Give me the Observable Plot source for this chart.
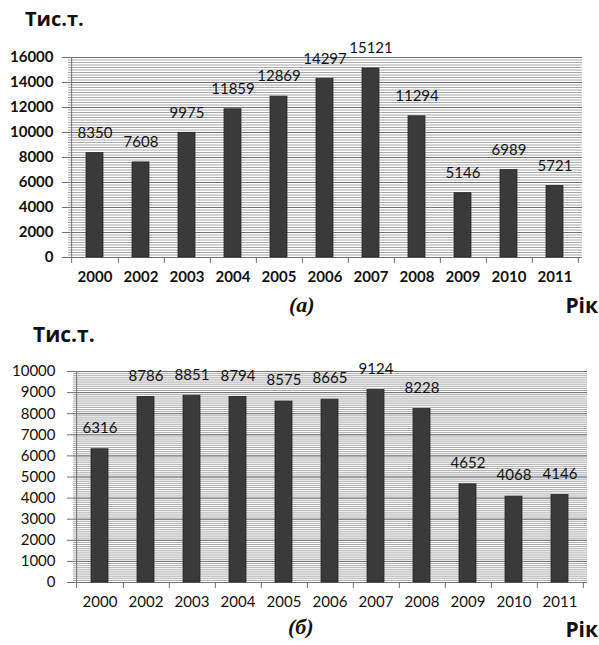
<!DOCTYPE html>
<html><head><meta charset="utf-8">
<script src="https://cdn.jsdelivr.net/npm/d3@7"></script>
<script src="https://cdn.jsdelivr.net/npm/@observablehq/plot@0.6"></script>
<style>
body{margin:0;background:#fff;width:599px;height:645px;position:relative;overflow:hidden}
.t{position:absolute;font-family:"Open Sans",sans-serif;font-weight:700;line-height:1;white-space:nowrap;color:#111}
.s{position:absolute;font-family:"Liberation Serif",serif;font-weight:700;font-style:italic;line-height:1;white-space:nowrap;color:#111}
.c{position:absolute;left:0}
</style></head><body>
<div class="t" style="left:25px;top:9px;font-size:20px">Тис.т.</div>
<div class="s" style="left:289px;top:294px;font-size:22px">(а)</div>
<div class="t" style="right:1px;top:295px;font-size:21px">Рік</div>
<div class="t" style="left:33px;top:324px;font-size:21px">Тис.т.</div>
<div class="s" style="left:288px;top:616px;font-size:22px">(б)</div>
<div class="t" style="right:1px;top:619px;font-size:21px">Рік</div>
<div id="a" class="c" style="top:40px"></div>
<div id="b" class="c" style="top:355px"></div>
<script>
const years = ["2000","2002","2003","2004","2005","2006","2007","2008","2009","2010","2011"];
const valuesA = [8350,7608,9975,11859,12869,14297,15121,11294,5146,6989,5721];
const valuesB = [6316,8786,8851,8794,8575,8665,9124,8228,4652,4068,4146];
const majorA = d3.range(0, 16001, 2000);
const minorA = d3.range(0, 16001, 200);
const majorB = d3.range(0, 10001, 1000);
const minorB = d3.range(0, 10001, 100);

function chart({values, yMax, major, minor, marginLeft, marginRight, marginTop, plotH, bold, tickPadding, labelDy}) {
  const W = 599, marginBottom = 35;
  const step = (W - marginLeft - marginRight) / years.length;
  const data = years.map((y, i) => ({year: y, value: values[i]}));
  const fw = bold ? 700 : 400;
  return Plot.plot({
    width: W, height: marginTop + plotH + marginBottom,
    marginLeft, marginRight, marginTop, marginBottom,
    style: {fontFamily: "Lato, 'Open Sans', sans-serif", fontSize: "15px", color: "#111", background: "#fff", overflow: "visible"},
    x: {domain: years, paddingInner: 0.62, paddingOuter: 0.31, label: null},
    y: {domain: [0, yMax], label: null},
    marks: [
      Plot.ruleY(minor, {stroke: "#a8a8a8", strokeWidth: 1}),
      Plot.ruleY(major, {stroke: "#707070", strokeWidth: 1}),
      Plot.ruleX([years[0]], {dx: -step / 2, insetBottom: -6, stroke: "#707070"}),
      Plot.ruleX(years, {dx: step / 2, insetTop: plotH, insetBottom: -6, stroke: "#707070"}),
      Plot.barY(data, {x: "year", y: "value", fill: "#3a3a3a", stroke: "#262626", strokeWidth: 0.8}),
      Plot.text(data, {x: "year", y: "value", text: d => String(d.value), dy: labelDy, fontSize: 15, fill: "#111"}),
      Plot.axisY({ticks: major, tickFormat: "d", tickSize: 6, tickPadding, stroke: "#707070", fill: "#111", fontWeight: fw, fontSize: 15}),
      Plot.axisX({tickSize: 0, tickPadding: 14, fill: "#111", fontWeight: fw, fontSize: 15})
    ]
  });
}

document.getElementById("a").append(chart({
  values: valuesA, yMax: 16000, major: majorA, minor: minorA,
  marginLeft: 68, marginRight: 17, marginTop: 17, plotH: 200, bold: true, tickPadding: 9, labelDy: -20
}));
document.getElementById("b").append(chart({
  values: valuesB, yMax: 10000, major: majorB, minor: minorB,
  marginLeft: 73, marginRight: 12, marginTop: 16, plotH: 211, bold: false, tickPadding: 12, labelDy: -21
}));
</script>
</body></html>
